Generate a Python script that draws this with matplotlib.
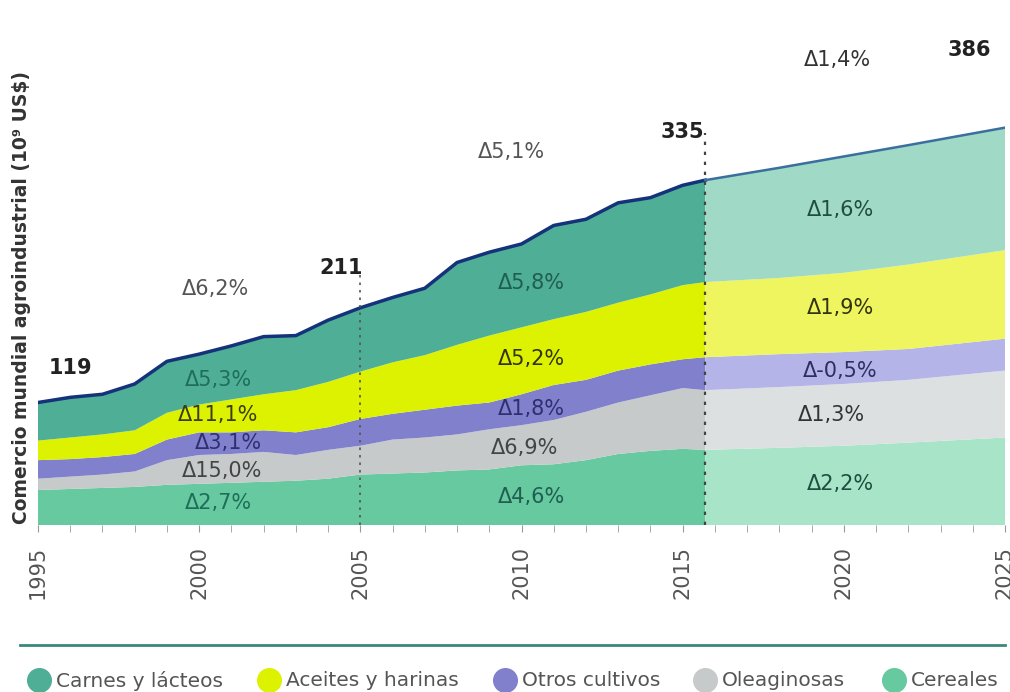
import numpy as np
import matplotlib
matplotlib.use("Agg")
import matplotlib.pyplot as plt
from matplotlib.lines import Line2D

plt.rcParams['font.family'] = ['DejaVu Sans']

# historical data (10^9 US$), last point is where the projection starts
hist_years = [1995, 1996, 1997, 1998, 1999, 2000, 2001, 2002, 2003, 2004, 2005,
              2006, 2007, 2008, 2009, 2010, 2011, 2012, 2013, 2014, 2015, 2015.7]
cereales = [34, 35, 36, 37, 39, 40, 41, 42, 43, 45, 49,
            50, 51, 53, 54, 58, 59, 63, 69, 72, 74, 73]
oleaginosas = [11, 12, 13, 15, 24, 28, 28, 29, 25, 28, 28,
               33, 34, 35, 39, 39, 43, 47, 50, 54, 59, 58]
otros = [18, 17, 17, 17, 20, 22, 21, 21, 22, 22, 26,
         25, 27, 28, 26, 30, 34, 31, 31, 30, 28, 32]
aceites = [19, 21, 22, 23, 26, 27, 32, 35, 41, 44, 46,
           50, 53, 59, 65, 65, 64, 66, 66, 68, 72, 73]
carnes = [37, 39, 39, 45, 50, 49, 52, 56, 53, 60, 62,
          63, 65, 80, 81, 81, 91, 90, 97, 94, 97, 99]

# projection
proj_years = [2015.7, 2018, 2020, 2022, 2025]
cereales_p = [73, 75, 77, 80, 85]
oleaginosas_p = [58, 59, 60, 61, 65]
otros_p = [32, 32, 31, 30, 31]
aceites_p = [73, 74, 77, 82, 86]
carnes_p = [99, 107, 113, 116, 119]

names = ["Carnes y lácteos", "Aceites y harinas", "Otros cultivos", "Oleaginosas", "Cereales"]
col_hist = ["#4fae96", "#dcf200", "#8080cc", "#c6caca", "#66c9a0"]
col_proj = ["#a0d9c6", "#eef55e", "#b4b4e8", "#dde0e0", "#a8e5c8"]

# growth labels: (x, y, text, color)
labels_1 = [(2000.6, 141, "Δ5,3%", "#1f6e5a"), (2000.6, 107, "Δ11,1%", "#3d3d10"),
            (2000.9, 80, "Δ3,1%", "#2e2e70"), (2000.7, 52, "Δ15,0%", "#444444"),
            (2000.6, 21, "Δ2,7%", "#1f6e5a")]
labels_2 = [(2010.3, 235, "Δ5,8%", "#1f5e50"), (2010.3, 161, "Δ5,2%", "#333310"),
            (2010.3, 113, "Δ1,8%", "#2e2e70"), (2010.1, 75, "Δ6,9%", "#444444"),
            (2010.3, 27, "Δ4,6%", "#1f5e50")]
labels_3 = [(2019.9, 306, "Δ1,6%", "#1f4e40"), (2019.9, 211, "Δ1,9%", "#333310"),
            (2019.9, 150, "Δ-0,5%", "#2e2e60"), (2019.6, 107, "Δ1,3%", "#333333"),
            (2019.9, 40, "Δ2,2%", "#1f4e40")]

fig = plt.figure(figsize=(10.10, 6.92), dpi=100)
ax = fig.add_axes([38 / 1010, 1 - 525 / 692, 967 / 1010, 525 / 692])

hist_stack = [cereales, oleaginosas, otros, aceites, carnes]
proj_stack = [cereales_p, oleaginosas_p, otros_p, aceites_p, carnes_p]
ax.stackplot(hist_years, hist_stack, colors=col_hist[::-1], linewidth=0)
ax.stackplot(proj_years, proj_stack, colors=col_proj[::-1], linewidth=0)

total_h = np.sum(hist_stack, axis=0)
total_p = np.sum(proj_stack, axis=0)
ax.plot(hist_years, total_h, color="#15337a", lw=2.5)
ax.plot(proj_years, total_p, color="#3a6f9e", lw=1.8)

ax.vlines(2005, 0, 244, colors="#555555", linestyles=(0, (1.5, 3)), lw=1.2)
ax.vlines(2015.7, 0, 381, colors="#444444", linestyles=(0, (1.5, 3)), lw=1.6)

for x, y, t in [(1996.0, 153, "119"), (2004.4, 250, "211"), (2015.0, 382, "335"), (2023.9, 461, "386")]:
    ax.text(x, y, t, ha="center", va="center", fontsize=15, fontweight="bold", color="#222222")

ax.text(2000.5, 229, "Δ6,2%", ha="center", va="center", fontsize=15, color="#555555")
ax.text(2009.7, 362, "Δ5,1%", ha="center", va="center", fontsize=15, color="#555555")
ax.text(2019.8, 452, "Δ1,4%", ha="center", va="center", fontsize=15, color="#333333")

for x, y, t, c in labels_1 + labels_2 + labels_3:
    ax.text(x, y, t, ha="center", va="center", fontsize=15, color=c)

ax.set_xlim(1995, 2025)
ax.set_ylim(0, 510)
ax.set_xticks(range(1995, 2026, 5))
ax.set_xticks(range(1995, 2026), minor=True)
ax.set_xticklabels([str(y) for y in range(1995, 2026, 5)], rotation=90, fontsize=15, color="#555555")
ax.tick_params(axis="x", which="both", direction="out", length=5, color="#999999", pad=10)
ax.set_yticks([])
for s in ax.spines.values():
    s.set_visible(False)

fig.text(22 / 1010, 1 - 297 / 692, "Comercio mundial agroindustrial (10⁹ US$)", rotation=90,
         ha="center", va="center", fontsize=13.5, fontweight="bold", color="#333333")

# legend
fig.add_artist(Line2D([20 / 1010, 1005 / 1010], [1 - 645 / 692] * 2, color="#3a8a7a", lw=2,
                      transform=fig.transFigure))
leg_x = [39, 269, 505, 705, 894]
for x, n, c in zip(leg_x, names, col_hist):
    fig.add_artist(Line2D([x / 1010], [1 - 680 / 692], marker="o", ms=17, color=c,
                          transform=fig.transFigure))
    fig.text((x + 17) / 1010, 1 - 681 / 692, n, ha="left", va="center", fontsize=14.5, color="#555555")

fig.savefig("out.png", dpi=100)
